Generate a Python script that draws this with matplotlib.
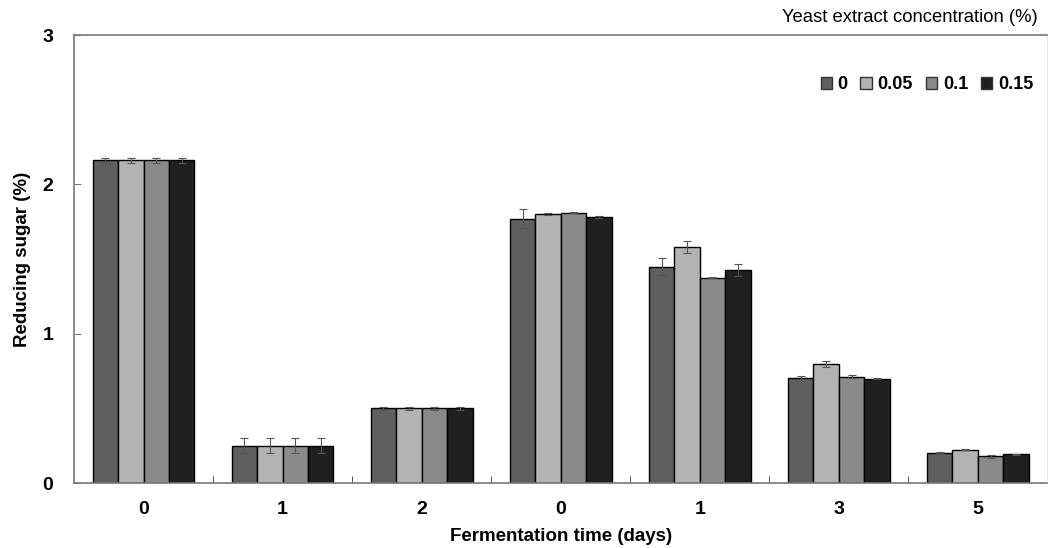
import numpy as np
import matplotlib.pyplot as plt
from matplotlib.patches import Patch

plt.rcParams["font.family"] = ["Liberation Sans", "DejaVu Sans"]

# --- data ---
days = ["0", "1", "2", "0", "1", "3", "5"]
concentrations = ["0", "0.05", "0.1", "0.15"]

sugar_0 = [2.16, 0.25, 0.50, 1.77, 1.45, 0.705, 0.203]
sugar_005 = [2.16, 0.25, 0.50, 1.80, 1.58, 0.795, 0.223]
sugar_01 = [2.16, 0.25, 0.50, 1.81, 1.375, 0.712, 0.179]
sugar_015 = [2.16, 0.25, 0.50, 1.78, 1.425, 0.699, 0.192]

err_0 = [0.02, 0.05, 0.01, 0.065, 0.06, 0.01, 0.005]
err_005 = [0.02, 0.05, 0.01, 0.005, 0.04, 0.02, 0.005]
err_01 = [0.02, 0.05, 0.01, 0.005, 0.005, 0.01, 0.01]
err_015 = [0.02, 0.05, 0.01, 0.005, 0.04, 0.005, 0.005]

series = [sugar_0, sugar_005, sugar_01, sugar_015]
errors = [err_0, err_005, err_01, err_015]
colors = ["#5f5f5f", "#b3b3b3", "#8a8a8a", "#202020"]

# --- plot ---
fig = plt.figure(figsize=(10.5, 5.48), dpi=100)
ax = fig.add_axes([0.0705, 0.1186, 0.927, 0.8174])

x = np.arange(len(days))
w = 0.183
for i, (vals, errs) in enumerate(zip(series, errors)):
    pos = x + (i - 1.5) * w
    ax.bar(pos, vals, w, color=colors[i], edgecolor="black", linewidth=1.0,
           label=concentrations[i], zorder=2)
    ax.errorbar(pos, vals, yerr=errs, fmt="none", ecolor="#555555",
                elinewidth=0.8, capsize=3, capthick=0.8, zorder=3)

ax.set_xlim(-0.5, len(days) - 0.5)
ax.set_ylim(0, 3)
ax.set_yticks([0, 1, 2, 3])
ax.set_yticklabels(["0", "1", "2", "3"], fontsize=14, fontweight="bold")
ax.set_xticks(x)
ax.set_xticklabels(days, fontsize=14, fontweight="bold")
ax.set_xticks(np.arange(0.5, len(days) - 0.5, 1), minor=True)
ax.tick_params(axis="x", which="major", length=0, pad=13)
ax.tick_params(axis="x", which="minor", direction="in", length=5, color="#333333")
ax.tick_params(axis="y", direction="in", length=5, pad=15, color="#777777")

for s in ["left", "top", "bottom"]:
    ax.spines[s].set_color("#777777")
    ax.spines[s].set_linewidth(1.2)
ax.spines["right"].set_color("#e6e6e6")

ax.set_xlabel("Fermentation time (days)", fontsize=13.5, fontweight="bold", labelpad=7)
ax.set_ylabel("Reducing sugar (%)", fontsize=13.5, fontweight="bold", labelpad=8)

fig.text(0.988, 0.953, "Yeast extract concentration (%)", ha="right", va="bottom",
         fontsize=13.3)

handles = [Patch(facecolor=c, edgecolor="#333333", label=l)
           for c, l in zip(colors, concentrations)]
leg = ax.legend(handles=handles, loc="upper right", bbox_to_anchor=(1.002, 0.945),
                ncol=4, frameon=False, handlelength=0.65, handleheight=0.65,
                handletextpad=0.3, columnspacing=0.7,
                prop={"weight": "bold", "size": 13})

fig.savefig("out.png", dpi=100)
